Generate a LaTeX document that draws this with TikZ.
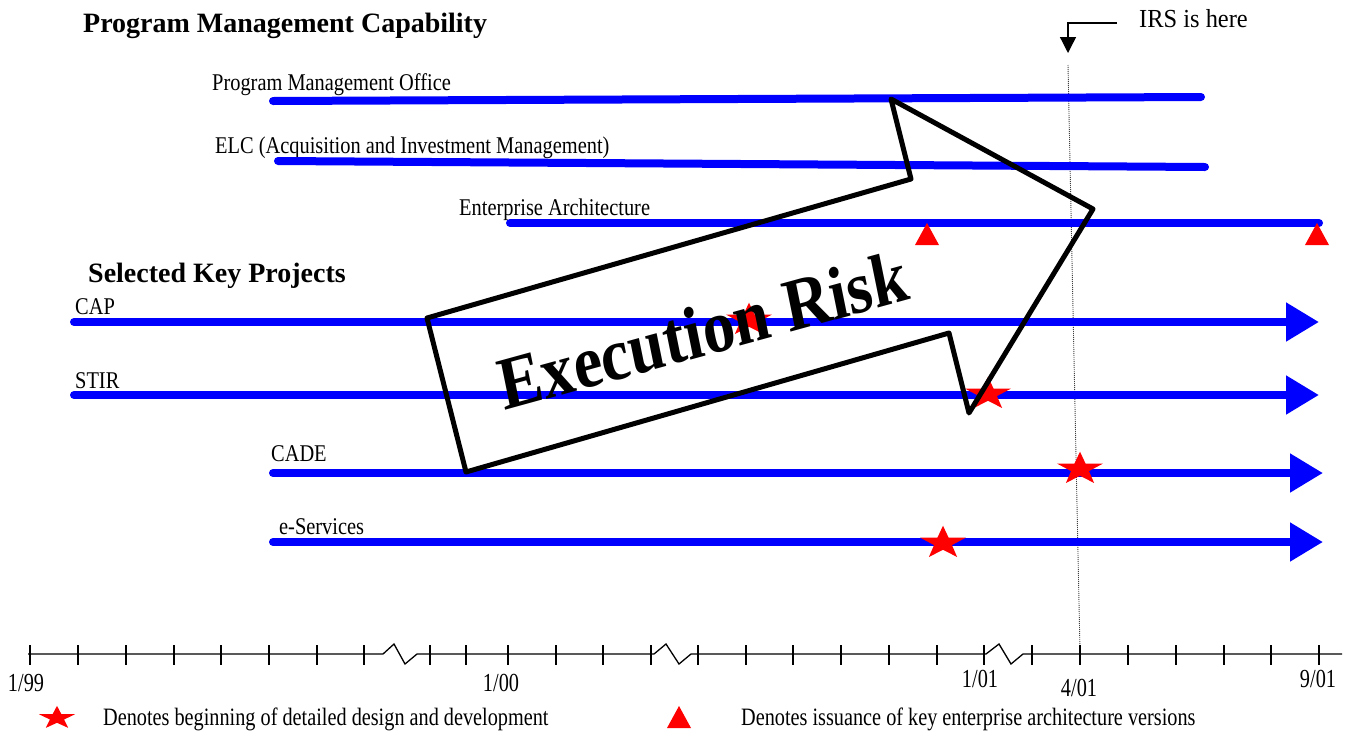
\documentclass[tikz,border=0pt]{standalone}
\usepackage{fontspec}
\setmainfont{Liberation Serif}
\usetikzlibrary{arrows.meta,shapes.geometric}
\definecolor{pblue}{RGB}{0,0,255}
\definecolor{pred}{RGB}{255,0,0}
\begin{document}
\begin{tikzpicture}[x=1pt,y=-1pt,
  bar/.style={line width=8pt, draw=pblue, line cap=round},
  barar/.style={line width=8pt, draw=pblue, line cap=round, -{Triangle[length=33pt,width=37pt]}},
  titletext/.style={font=\bfseries\fontsize{28}{32}\selectfont, anchor=base west, inner sep=0pt},
  lab/.style={font=\fontsize{24}{28}\selectfont, anchor=base west, inner sep=0pt, xscale=0.85},
  irslab/.style={font=\fontsize{26}{30}\selectfont, anchor=base west, inner sep=0pt, xscale=0.94},
  axl/.style={font=\fontsize{26}{30}\selectfont, anchor=base, inner sep=0pt, xscale=0.78},
  leg/.style={font=\fontsize{25}{30}\selectfont, anchor=base west, inner sep=0pt, xscale=0.81},
  rstar/.style={star, star points=5, star point ratio=2.55, fill=pred, draw=none, inner sep=0pt, minimum size=48pt, yscale=0.72},
  rstarsmall/.style={star, star points=5, star point ratio=2.55, fill=pred, draw=none, inner sep=0pt, minimum size=38pt, yscale=0.64},
  axisline/.style={line width=1.3pt, draw=black},
  bigarrow/.style={line width=5pt, draw=black, line join=round},
  risk/.style={font=\bfseries\fontsize{75}{80}\selectfont, anchor=base, inner sep=0pt, xscale=0.86, rotate=13.3}
]
\useasboundingbox (0,0) rectangle (1346,737);

% headings and labels
\node[titletext] (t1) at (83,32) {Program Management Capability};
\node[titletext] (t2) at (88,282) {Selected Key Projects};
\node[lab] (lpmo) at (212,90) {Program Management Office};
\node[lab] (lelc) at (215,153) {ELC (Acquisition and Investment Management)};
\node[lab] (lea) at (459,215) {Enterprise Architecture};
\node[lab] (lcap) at (75,314) {CAP};
\node[lab] (lstir) at (75,388) {STIR};
\node[lab] (lcade) at (271,461) {CADE};
\node[lab] (lesv) at (279,534) {e-Services};
\node[irslab] (irs) at (1139,27) {IRS is here};

% IRS pointer and dotted line
\coordinate (irsS) at (1117,23);
\coordinate (irsT) at (1068,53);
\draw[line width=1.3pt, -{Triangle[length=16pt,width=16pt]}] (irsS) -| (irsT);
\coordinate (dT) at (1068,65);
\coordinate (dB) at (1080,652);
\draw[line width=0.9pt, draw=black!75, dash pattern=on 1pt off 1pt] (dT) -- (dB);

% bars
\draw[bar] (273,101) -- (1201,97);
\draw[bar] (278,161) -- (1205,167);
\draw[bar] (510,223) -- (1319,223);
\draw[barar] (74,322) -- (1319,322);
\draw[barar] (74,395) -- (1319,395);
\draw[barar] (273,473) -- (1323,473);
\draw[barar] (273,542) -- (1323,542);

% markers
\fill[pred] (927,223) -- (939,245) -- (915,245) -- cycle;
\fill[pred] (1317,223) -- (1329,245) -- (1305,245) -- cycle;
\node[rstar] (s1) at (749,320) {};
\node[rstar] (s2) at (988,394) {};
\node[rstar] (s3) at (1080,469) {};
\node[rstar] (s4) at (943,543) {};

% big arrow
\draw[bigarrow] (427,318) -- (466,472) -- (949,333) -- (969,413) -- (1093,209) -- (891,99) -- (911,179) -- cycle;
\node[risk] (er) at (708,355) {Execution Risk};

% time axis
\draw[axisline] (28,654) -- (383,654) -- (394,644) -- (405,664) -- (417,654) -- (654,654) -- (666,644) -- (679,664) -- (691,654) -- (986,654) -- (999,644) -- (1011,664) -- (1023,654) -- (1342,654);
\foreach \x in {30,78,126,174,221,269,317,364,430,466,508,556,603,651,698,746,793,841,889,937,984,1032,1080,1128,1176,1224,1271,1319}
  \draw[axisline] (\x,645) -- (\x,665);
\node[axl] (a1) at (26,691) {1/99};
\node[axl] (a2) at (501,691) {1/00};
\node[axl] (a3) at (980,687) {1/01};
\node[axl] (a4) at (1079,696) {4/01};
\node[axl] (a5) at (1318,687) {9/01};

% legend
\node[rstarsmall] (ls) at (57,718) {};
\node[leg] (lt1) at (103,725) {Denotes beginning of detailed design and development};
\fill[pred] (679,706) -- (691,728) -- (667,728) -- cycle;
\node[leg] (lt2) at (741,725) {Denotes issuance of key enterprise architecture versions};
\end{tikzpicture}
\end{document}
